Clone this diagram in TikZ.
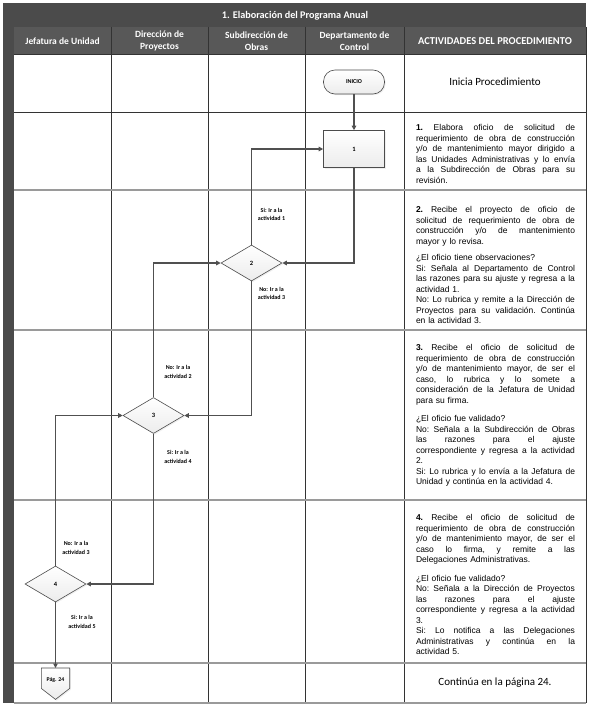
\documentclass[tikz,border=0pt]{standalone}
\usepackage{fontspec}
\setmainfont{Carlito}
\newfontfamily\arialf{Liberation Sans}
\usetikzlibrary{shapes.geometric,arrows.meta,shadows}
\definecolor{hdrdark}{HTML}{4B4B4B}
\definecolor{hdr}{HTML}{585858}
\definecolor{gridC}{HTML}{333333}
\definecolor{rowC}{HTML}{9A9A9A}
\definecolor{flowC}{HTML}{505050}
\newcommand\jline[1]{\makebox[159pt][s]{\spaceskip=\fontdimen2\font plus 1fil\relax\xspaceskip=\spaceskip #1}}
\begin{document}
\begin{tikzpicture}[x=1pt,y=-1pt,
  hdrtext/.style={text=white,font=\fontsize{9.5}{12}\selectfont\bfseries,align=center,inner sep=0pt},
  acttext/.style={anchor=north,inner sep=0pt,text width=159pt,align=left,font=\arialf\fontsize{8.5}{10.5}\selectfont\frenchspacing},
  plaintext/.style={inner sep=0pt,font=\fontsize{11}{13}\selectfont},
  lbl/.style={inner sep=0pt,align=center,font=\fontsize{6}{8.5}\selectfont\bfseries},
  procbox/.style={draw=gray!60!black,line width=0.6pt,top color=white,bottom color=gray!15,minimum width=61pt,minimum height=37pt,inner sep=0pt,font=\fontsize{6.5}{7}\selectfont\bfseries,drop shadow={opacity=0.12,shadow xshift=1.2pt,shadow yshift=-1.2pt}},
  termbox/.style={draw=gray!60!black,line width=0.6pt,top color=white,bottom color=gray!15,rounded corners=11.5pt,minimum width=61pt,minimum height=24pt,inner sep=0pt,font=\fontsize{6}{6.5}\selectfont\bfseries,drop shadow={opacity=0.12,shadow xshift=1.2pt,shadow yshift=-1.2pt}},
  decbox/.style={diamond,draw=gray!60!black,line width=0.6pt,top color=white,bottom color=gray!15,minimum width=61pt,minimum height=36pt,inner sep=0pt,font=\fontsize{6.5}{7}\selectfont\bfseries,drop shadow={opacity=0.12,shadow xshift=1.2pt,shadow yshift=-1.2pt}},
  flow/.style={draw=flowC,line width=1.1pt,-{Triangle[length=4.5pt,width=4.5pt]}}
]
\useasboundingbox (0,0) rectangle (590,709);
\fill[white] (0,0) rectangle (590,709);
% header bands
\fill[hdr] (3,3) rectangle (586,54);
\fill[hdrdark] (3,3) rectangle (586,27);
\fill[hdrdark] (3,27) rectangle (14,703);
% grid
\foreach \xx in {111,208,305,404} {\draw[gridC,line width=0.7pt] (\xx,27) -- (\xx,703);}
\draw[gridC,line width=0.7pt] (586,27) -- (586,703);
\draw[gridC,line width=0.7pt] (14,54) -- (586,54);
\draw[gridC,line width=0.7pt] (14,112) -- (586,112);
\foreach \yy in {190,330,500,663,703} {\draw[rowC,line width=1.4pt] (14,\yy) -- (586,\yy);}
% titles
\node[hdrtext,font=\fontsize{10.2}{12}\selectfont\bfseries] (title) at (295,15.5) {1. Elaboración del Programa Anual};
\node[hdrtext] (h1) at (62.5,41) {Jefatura de Unidad};
\node[hdrtext] (h2) at (159.5,41) {Dirección de\\Proyectos};
\node[hdrtext] (h3) at (256.5,41) {Subdirección de\\Obras};
\node[hdrtext] (h4) at (354.5,41) {Departamento de\\Control};
\node[hdrtext,font=\fontsize{10.5}{12}\selectfont\bfseries] (h5) at (495,41) {ACTIVIDADES DEL PROCEDIMIENTO};
% flow shapes
\node[termbox] (inicio) at (354,82) {INICIO};
\node[procbox] (b1) at (354,149) {1};
\node[decbox] (d2) at (251.5,263) {2};
\node[decbox] (d3) at (153.5,415.5) {3};
\node[decbox] (d4) at (55.5,584) {4};
\node[inner sep=0pt,minimum width=28pt,minimum height=31pt,anchor=north] (pag) at (55.5,668) {};
\draw[draw=gray!60!black,line width=0.6pt,top color=white,bottom color=gray!15,drop shadow={opacity=0.12,shadow xshift=1.2pt,shadow yshift=-1.2pt}]
  (pag.north west) -- (pag.north east) -- ([yshift=11pt]pag.south east) -- (pag.south) -- ([yshift=11pt]pag.south west) -- cycle;
\node[lbl,font=\fontsize{5.8}{6}\selectfont\bfseries] (pagt) at (55.5,679.5) {Pág. 24};
% connectors
\draw[flow] (inicio) -- (b1);
\draw[flow] (b1.south) |- (d2.east);
\draw[flow] (d2.north) |- (b1.west);
\draw[flow] (d2.south) |- (d3.east);
\draw[flow] (d3.north) |- (d2.west);
\draw[flow] (d3.south) |- (d4.east);
\draw[flow] (d4.north) |- (d3.west);
\draw[flow] (d4.south) -- (pag.north);
% labels
\node[lbl] (l1) at (271.5,214.5) {Si: Ir a la\\actividad 1};
\node[lbl] (l2) at (271.5,293.5) {No: Ir a la\\actividad 3};
\node[lbl] (l3) at (178,372) {No: Ir a la\\actividad 2};
\node[lbl] (l4) at (178,457) {Si: Ir a la\\actividad 4};
\node[lbl] (l5) at (76,548) {No: Ir a la\\actividad 3};
\node[lbl] (l6) at (82,622) {Si: Ir a la\\actividad 5};
% activity texts
\node[plaintext] (a0) at (495,82) {Inicia Procedimiento};
\node[acttext] (a1) at (495.5,124.5) {%
\jline{\textbf{1.} Elabora oficio de solicitud de}\\
\jline{requerimiento de obra de construcción}\\
\jline{y/o de mantenimiento mayor dirigido a}\\
\jline{las Unidades Administrativas y lo envía}\\
\jline{a la Subdirección de Obras para su}\\
revisión.};
\node[acttext] (a2) at (495.5,206.5) {%
\jline{\textbf{2.} Recibe el proyecto de oficio de}\\
\jline{solicitud de requerimiento de obra de}\\
\jline{construcción y/o de mantenimiento}\\
mayor y lo revisa.\\[6pt]
¿El oficio tiene observaciones?\\
\jline{Si: Señala al Departamento de Control}\\
\jline{las razones para su ajuste y regresa a la}\\
actividad 1.\\
\jline{No: Lo rubrica y remite a la Dirección de}\\
\jline{Proyectos para su validación. Continúa}\\
en la actividad 3.};
\node[acttext] (a3) at (495.5,344.5) {%
\jline{\textbf{3.} Recibe el oficio de solicitud de}\\
\jline{requerimiento de obra de construcción}\\
\jline{y/o de mantenimiento mayor, de ser el}\\
\jline{caso, lo rubrica y lo somete a}\\
\jline{consideración de la Jefatura de Unidad}\\
para su firma.\\[8pt]
¿El oficio fue validado?\\
\jline{No: Señala a la Subdirección de Obras}\\
\jline{las razones para el ajuste}\\
\jline{correspondiente y regresa a la actividad}\\
2.\\
\jline{Si: Lo rubrica y lo envía a la Jefatura de}\\
Unidad y continúa en la actividad 4.};
\node[acttext] (a4) at (495.5,514.5) {%
\jline{\textbf{4.} Recibe el oficio de solicitud de}\\
\jline{requerimiento de obra de construcción}\\
\jline{y/o de mantenimiento mayor, de ser el}\\
\jline{caso lo firma, y remite a las}\\
Delegaciones Administrativas.\\[8pt]
¿El oficio fue validado?\\
\jline{No: Señala a la Dirección de Proyectos}\\
\jline{las razones para el ajuste}\\
\jline{correspondiente y regresa a la actividad}\\
3.\\
\jline{Si: Lo notifica a las Delegaciones}\\
\jline{Administrativas y continúa en la}\\
actividad 5.};
\node[plaintext] (a5) at (495,683) {Continúa en la página 24.};
\end{tikzpicture}
\end{document}
